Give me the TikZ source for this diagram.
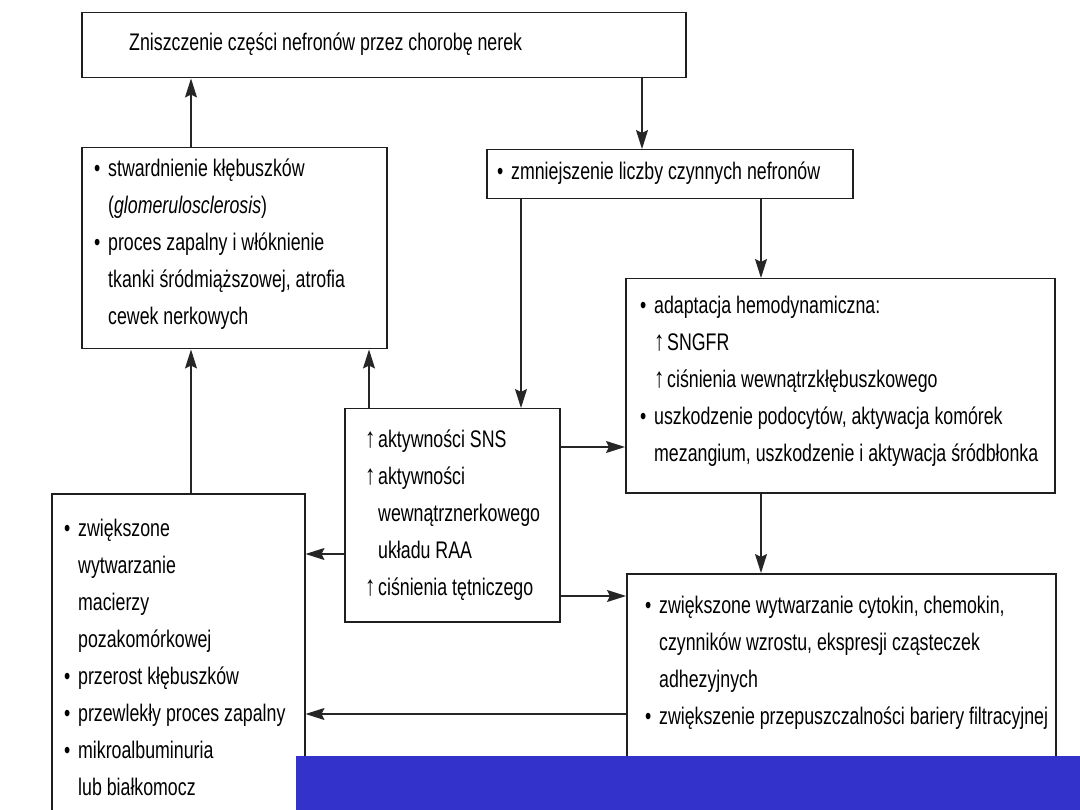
\documentclass[tikz,border=0pt]{standalone}
\usepackage{fontspec}
\setmainfont{Liberation Sans}[FakeStretch=0.74]
\usetikzlibrary{arrows.meta}
\definecolor{bandblue}{RGB}{51,51,204}
\newcommand{\bul}{\makebox[14pt][l]{•}}
\newcommand{\ind}{\hspace*{14pt}}
\newcommand{\upa}{\makebox[13pt][l]{{\fontsize{28}{37}\selectfont↑}}}
\newcommand{\stt}{\rule{0pt}{18pt}}
\begin{document}
\begin{tikzpicture}[x=1pt,y=-1pt,
  box/.style={draw=black!88, line width=1.5pt, rectangle, inner sep=0pt, anchor=north west},
  txt/.style={anchor=north west, inner sep=0pt, align=left, font=\fontsize{24}{37}\selectfont, text=black},
  arr/.style={draw=black!85, line width=1.2pt, -{Stealth[length=19pt,width=12pt,inset=3pt]}}]
\clip (0,0) rectangle (1080,810);
\fill[white] (0,0) rectangle (1080,810);
% boxes
\node[box, minimum width=604pt, minimum height=65pt] (b1) at (81,12) {};
\node[box, minimum width=305pt, minimum height=201pt] (b2) at (81,147) {};
\node[box, minimum width=366pt, minimum height=49pt] (b3) at (486,149) {};
\node[box, minimum width=429pt, minimum height=214pt] (b4) at (625,278) {};
\node[box, minimum width=215pt, minimum height=213pt] (b5) at (344,408) {};
\node[box, minimum width=253pt, minimum height=347pt] (b6) at (51,493) {};
\node[box, minimum width=429pt, minimum height=267pt] (b7) at (626,573) {};
% texts
\node[txt] (t1) at (129,32) {\stt Zniszczenie części nefronów przez chorobę nerek};
\node[txt] (t2) at (94,158) {\stt\bul stwardnienie kłębuszków\\
\ind(\textit{glomerulosclerosis})\\
\bul proces zapalny i włóknienie\\
\ind tkanki śródmiąższowej, atrofia\\
\ind cewek nerkowych};
\node[txt] (t3) at (497,161) {\stt\bul zmniejszenie liczby czynnych nefronów};
\node[txt] (t4) at (640,295) {\stt\bul adaptacja hemodynamiczna:\\
\ind\upa SNGFR\\
\ind\upa ciśnienia wewnątrzkłębuszkowego\\
\bul uszkodzenie podocytów, aktywacja komórek\\
\ind mezangium, uszkodzenie i aktywacja śródbłonka};
\node[txt] (t5) at (365,429) {\stt\upa aktywności SNS\\
\upa aktywności\\
\hspace*{13pt}wewnątrznerkowego\\
\hspace*{13pt}układu RAA\\
\upa ciśnienia tętniczego};
\node[txt] (t6) at (64,518) {\stt\bul zwiększone\\
\ind wytwarzanie\\
\ind macierzy\\
\ind pozakomórkowej\\
\bul przerost kłębuszków\\
\bul przewlekły proces zapalny\\
\bul mikroalbuminuria\\
\ind lub białkomocz};
\node[txt] (t7) at (645,595) {\stt\bul zwiększone wytwarzanie cytokin, chemokin,\\
\ind czynników wzrostu, ekspresji cząsteczek\\
\ind adhezyjnych\\
\bul zwiększenie przepuszczalności bariery filtracyjnej};
% connector positions
\coordinate (xa) at (191,0);
\coordinate (xb) at (642,0);
\coordinate (xc) at (521,0);
\coordinate (xd) at (761,0);
\coordinate (xe) at (369,0);
\coordinate (ya) at (0,447);
\coordinate (yb) at (0,596);
\coordinate (yc) at (0,554);
\coordinate (yd) at (0,714);
% connectors
\draw[arr] (b2.north -| xa) -- (b1.south -| xa);
\draw[arr] (b1.south -| xb) -- (b3.north -| xb);
\draw[arr] (b3.south -| xc) -- (b5.north -| xc);
\draw[arr] (b3.south -| xd) -- (b4.north -| xd);
\draw[arr] (b5.east |- ya) -- (b4.west |- ya);
\draw[arr] (b5.east |- yb) -- (b7.west |- yb);
\draw[arr] (b5.west |- yc) -- (b6.east |- yc);
\draw[arr] (b7.west |- yd) -- (b6.east |- yd);
\draw[arr] (b5.north -| xe) -- (b2.south -| xe);
\draw[arr] (b6.north -| xa) -- (b2.south -| xa);
\draw[arr] (b4.south -| xd) -- (b7.north -| xd);
% blue band
\fill[bandblue] (296,756) rectangle (1080,810);
\end{tikzpicture}
\end{document}
